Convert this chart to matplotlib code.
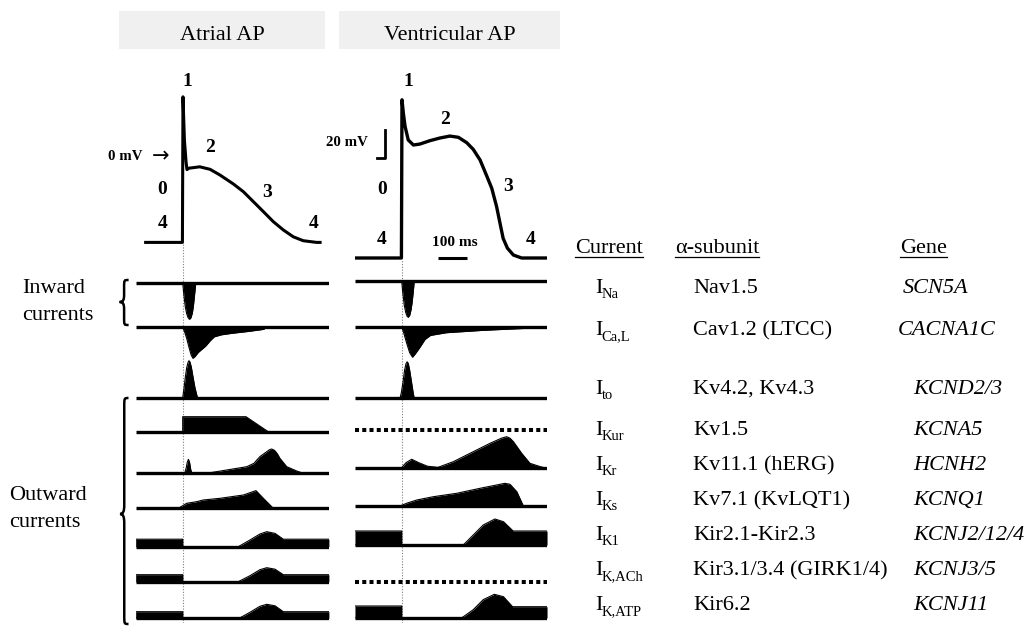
import matplotlib
matplotlib.use('Agg')
import matplotlib.pyplot as plt
from matplotlib.path import Path
from matplotlib.patches import PathPatch, Rectangle

plt.rcParams['font.family'] = ['Liberation Serif', 'DejaVu Serif']

W, H = 1030, 627

# action potentials: time (ms from upstroke) and membrane potential (mV)
atr_ap_t = [-130, -1, 1, 6, 12, 15, 22, 60, 96, 131, 178, 213, 248, 283, 318, 353, 388, 423, 470, 482]
atr_ap_v = [-61, -61, 43, 12, -4, -9, -8, -7, -8.8, -12.9, -19.3, -24.8, -31.9, -39, -46.2, -52.1, -57, -59.8, -61, -61]
ven_ap_t = [-160, -1, 1, 6, 12, 23, 41, 64, 99, 134, 169, 199, 228, 251, 275, 297, 316, 333,
            345, 356, 371, 392, 421, 513]
ven_ap_v = [-85, -85, 28, 18, 8.8, -0.7, -4.3, -3.6, -1.2, 0.7, 2.1, 1.2, -2.6, -7.4, -15, -25.7, -35.2, -48.3,
            -60.2, -71, -78, -82.9, -85, -85]

# scale bars
bar_mv = 20
bar_ms = 100

# ionic currents: time (ms) and amplitude (a.u., outward up / inward down)
ina_atr_t = [0, 4, 9, 14, 19, 24, 29, 34, 38, 42, 46]
ina_atr_a = [0, -12, -24, -31, -35, -36.6, -35, -30, -22, -11, 0]
ina_ven_t = [0, 4, 9, 14, 19, 23, 28, 33, 37, 41, 44]
ina_ven_a = [0, -12, -24, -31, -35, -36, -34, -28, -20, -9, 0]

ical_atr_t = [0, 6, 14, 22, 30, 36, 44, 55, 80, 98, 111, 136, 173, 234, 285, 290]
ical_atr_a = [0, -4, -11, -20, -28, -31, -29, -25, -19, -13, -9.5, -7.5, -6, -4, -2, 0]
ical_ven_t = [0, 8, 18, 28, 38, 48, 63, 82, 101, 157, 282, 408, 495, 500]
ical_ven_a = [0, -7, -17, -26, -30.5, -27, -21, -12.7, -8.7, -6, -3.7, -2, -1, 0]

ito_atr_t = [0, 4, 9, 14, 19, 22, 25, 30, 36, 43, 50, 52]
ito_atr_a = [0, 8, 20, 30, 35.5, 37, 36, 31, 21, 10, 2, 0]
ito_ven_t = [-6, -1, 5, 10, 15, 19, 23, 28, 34, 40, 44]
ito_ven_a = [0, 6, 17, 28, 34.5, 36.5, 35, 28, 17, 6, 0]

ikur_atr_t = [0, 0, 222, 300]
ikur_atr_a = [0, 15, 15, 0]

ikr_atr_t = [7, 12, 16, 20, 24, 28, 32, 84, 148, 225, 250, 271, 292, 304, 312, 322, 332, 341, 365, 400, 423]
ikr_atr_a = [0, 5, 11, 14, 11, 4, 0, 0, 3, 6.6, 10, 16.7, 21, 23.5, 24.3, 23, 19.5, 15, 6.6, 2.3, 0]
ikr_ven_t = [0, 15, 35, 60, 90, 127, 181, 251, 310, 350, 368, 380, 392, 421, 450, 487, 500]
ikr_ven_a = [0, 5, 8.4, 5, 1.5, 0.3, 6, 16, 24.4, 29.5, 31, 29.5, 26, 14.4, 4.4, 1, 0]

iks_atr_t = [-15, 14, 49, 72, 131, 213, 257, 283, 318]
iks_atr_a = [0, 5, 6.6, 8.3, 10, 13.3, 17.7, 10, 0]
iks_ven_t = [-6, 20, 53, 111, 193, 275, 345, 362, 380, 404, 427]
iks_ven_a = [0, 3, 6, 9.3, 12.7, 17.7, 21.7, 22.7, 21.7, 14.3, 0]

ik1_atr_t = [-165, 0, 0, 195, 236, 271, 295, 324, 353, 513]
ik1_atr_a = [7.5, 7.5, 0, 0, 6.7, 12.7, 15, 13.3, 7.5, 7.5]
ik1_ven_t = [-164, 0, 0, 216, 251, 286, 327, 357, 391, 510]
ik1_ven_a = [14, 14, 0, 0, 10, 20, 26, 23.3, 14, 14]

ikach_atr_t = [-165, 0, 0, 195, 236, 271, 295, 324, 353, 513]
ikach_atr_a = [7, 7, 0, 0, 6, 12, 14, 12.5, 7, 7]

ikatp_atr_t = [-165, 0, 0, 198, 236, 271, 295, 324, 353, 513]
ikatp_atr_a = [6.6, 6.6, 0, 0, 6, 12, 14, 12.5, 6.6, 6.6]
ikatp_ven_t = [-164, 0, 0, 210, 251, 286, 325, 357, 389, 510]
ikatp_ven_a = [12, 12, 0, 0, 8.3, 18.3, 23.7, 21.3, 11.3, 11.3]

# table
current_subs = ['Na', 'Ca,L', 'to', 'Kur', 'Kr', 'Ks', 'K1', 'K,ACh', 'K,ATP']
subunits = ['Nav1.5', 'Cav1.2 (LTCC)', 'Kv4.2, Kv4.3', 'Kv1.5', 'Kv11.1 (hERG)',
            'Kv7.1 (KvLQT1)', 'Kir2.1-Kir2.3', 'Kir3.1/3.4 (GIRK1/4)', 'Kir6.2']
genes = ['SCN5A', 'CACNA1C', 'KCND2/3', 'KCNA5', 'HCNH2', 'KCNQ1',
         'KCNJ2/12/4', 'KCNJ3/5', 'KCNJ11']

# traces per column, None = dotted (absent)
atr_traces = [(ina_atr_t, ina_atr_a), (ical_atr_t, ical_atr_a), (ito_atr_t, ito_atr_a),
              (ikur_atr_t, ikur_atr_a), (ikr_atr_t, ikr_atr_a), (iks_atr_t, iks_atr_a),
              (ik1_atr_t, ik1_atr_a), (ikach_atr_t, ikach_atr_a), (ikatp_atr_t, ikatp_atr_a)]
ven_traces = [(ina_ven_t, ina_ven_a), (ical_ven_t, ical_ven_a), (ito_ven_t, ito_ven_a),
              None, (ikr_ven_t, ikr_ven_a), (iks_ven_t, iks_ven_a),
              (ik1_ven_t, ik1_ven_a), None, (ikatp_ven_t, ikatp_ven_a)]

# ---- layout (pixels) ----
PX_MS = 0.285
PX_MV = 1.4
t0_px = [182.7, 401.7]
span = [(-165, 513), (-164, 510)]
zero_mv_px = [157, 139]
ap_base_px = [242, 258]
row_base = [[282.7, 327.3, 397.7, 431.7, 473.3, 508.3, 546.7, 581.7, 618.3],
            [281.3, 326.7, 398.3, 430.0, 467.7, 506.0, 545.0, 581.7, 618.0]]
row_text_base = [293, 335, 394, 435, 470, 505, 540, 575, 610]
gene_x = [903, 898, 913, 913, 913, 913, 913, 913, 913]

fig = plt.figure(figsize=(W / 100, H / 100), dpi=100)
ov = fig.add_axes([0, 0, 1, 1])
ov.set_xlim(0, W)
ov.set_ylim(H, 0)
ov.axis('off')


def px_axes(x0, x1, y0, y1):
    a = fig.add_axes([x0 / W, 1 - y1 / H, (x1 - x0) / W, (y1 - y0) / H])
    a.axis('off')
    return a


def col_x(c):
    return t0_px[c] + span[c][0] * PX_MS, t0_px[c] + span[c][1] * PX_MS


# guide lines at the upstroke
for c in range(2):
    x0, x1 = col_x(c)
    g = px_axes(x0, x1, ap_base_px[c] + 2, 623)
    g.set_xlim(span[c])
    g.axvline(0, color='#808080', lw=0.8, ls=(0, (1, 1.5)))

# action potentials
for c, (t, v) in enumerate([(atr_ap_t, atr_ap_v), (ven_ap_t, ven_ap_v)]):
    x0, x1 = col_x(c)
    a = px_axes(x0, x1, 60, 280)
    a.set_xlim(span[c])
    a.set_ylim((zero_mv_px[c] - 280) / PX_MV, (zero_mv_px[c] - 60) / PX_MV)
    a.plot(t, v, color='k', lw=2.2 if c == 0 else 2.4, solid_joinstyle='round')
    if c == 1:
        # 20 mV and 100 ms scale bars
        a.plot([-88, -59, -59], [-13.8, -13.8, -13.8 + bar_mv], color='k', lw=2.0)
        a.plot([128, 128 + bar_ms], [-85, -85], color='k', lw=2.2, solid_capstyle='butt')

# current traces
for c, traces in enumerate([atr_traces, ven_traces]):
    x0, x1 = col_x(c)
    for i, tr in enumerate(traces):
        b = row_base[c][i]
        a = px_axes(x0, x1, b - 42, b + 42)
        a.set_xlim(span[c])
        a.set_ylim(-42, 42)
        if tr is None:
            a.axhline(0, color='k', lw=2.9, ls=(0, (1, 0.8)), dash_capstyle='butt')
            continue
        a.axhline(0, color='k', lw=2.4, solid_capstyle='butt')
        a.fill_between(tr[0], 0, tr[1], color='k', lw=0)
        a.plot(tr[0], tr[1], color='k', lw=0.8, solid_joinstyle='round')

# header boxes
for x, w, label in [(119, 206, 'Atrial AP'), (339, 221, 'Ventricular AP')]:
    ov.add_patch(Rectangle((x, 11), w, 38, facecolor='#f0f0f0', edgecolor='none'))
    ov.text(x + w / 2, 40, label, fontsize=16, ha='center', va='baseline')

# phase numbers
bold = dict(fontsize=14, fontweight='bold', ha='center', va='center')
for x, y, s in [(187.3, 81.7, '1'), (210, 147.3, '2'), (162.3, 190, '0'), (267.3, 192.7, '3'),
                (162.3, 224, '4'), (314, 224, '4'),
                (408.3, 81.7, '1'), (445, 119.3, '2'), (381.7, 190, '0'), (508.3, 186.7, '3'),
                (381.7, 240, '4'), (530.7, 240, '4')]:
    ov.text(x, y, s, **bold)
ov.text(108, 157, '0 mV', fontsize=10.7, fontweight='bold', ha='left', va='center')
ov.text(152, 156.5, '\u2192', fontsize=15, family='DejaVu Sans', ha='left', va='center')
ov.text(346.7, 142, '20 mV', fontsize=10.7, fontweight='bold', ha='center', va='center')
ov.text(455, 242, '100 ms', fontsize=11, fontweight='bold', ha='center', va='center')

# side labels
ov.text(22, 293.3, 'Inward', fontsize=16, ha='left', va='baseline')
ov.text(22, 320, 'currents', fontsize=16, ha='left', va='baseline')
ov.text(9, 500, 'Outward', fontsize=16, ha='left', va='baseline')
ov.text(9, 527.3, 'currents', fontsize=16, ha='left', va='baseline')


def brace(x_tip, x_end, y0, y1, ym, r=8):
    xm = (x_tip + x_end) / 2
    verts = [(x_end, y0),
             (xm, y0), (xm, y0), (xm, y0 + r),
             (xm, ym - r),
             (xm, ym - r * 0.3), (xm - 1, ym), (x_tip, ym),
             (xm - 1, ym), (xm, ym + r * 0.3), (xm, ym + r),
             (xm, y1 - r),
             (xm, y1), (xm, y1), (x_end, y1)]
    codes = [Path.MOVETO] + [Path.CURVE4] * 3 + [Path.LINETO] + [Path.CURVE4] * 6 + \
            [Path.LINETO] + [Path.CURVE4] * 3
    ov.add_patch(PathPatch(Path(verts, codes), facecolor='none', edgecolor='k', lw=1.8))


brace(119.6, 128.6, 280, 325, 302, r=7)
brace(120, 128.5, 398, 624, 514, r=9)

# table
fig.canvas.draw()
rend = fig.canvas.get_renderer()
inv = ov.transData.inverted()

for x, s in [(575, 'Current'), (675, '\u03b1-subunit'), (900, 'Gene')]:
    tx = ov.text(x, 253, s, fontsize=16, ha='left', va='baseline')
    bb = tx.get_window_extent(rend)
    (ux0, _), (ux1, _) = inv.transform([(bb.x0, bb.y0), (bb.x1, bb.y0)])
    ov.plot([ux0, ux1], [256.5, 256.5], color='k', lw=0.9)

for i in range(len(current_subs)):
    y = row_text_base[i]
    ti = ov.text(595, y, 'I', fontsize=16, ha='left', va='baseline')
    bb = ti.get_window_extent(rend)
    xs = inv.transform([(bb.x1, bb.y0)])[0][0]
    ov.text(xs - 0.5, y + 5, current_subs[i], fontsize=10.5, ha='left', va='baseline')
    ov.text(693, y, subunits[i], fontsize=16, ha='left', va='baseline')
    ov.text(gene_x[i], y, genes[i], fontsize=16, ha='left', va='baseline', style='italic')

fig.savefig('out.png', dpi=100)
